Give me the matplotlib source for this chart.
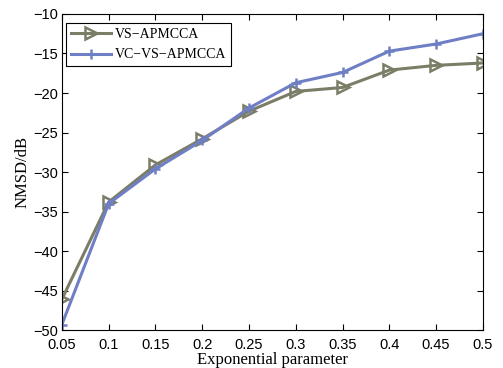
import matplotlib
matplotlib.use("Agg")
import matplotlib.pyplot as plt

x_vals = [0.05, 0.1, 0.15, 0.2, 0.25, 0.3, 0.35, 0.4, 0.45, 0.5]
vs_apmcca = [-46.1, -33.8, -29.1, -25.8, -22.3, -19.8, -19.3, -17.1, -16.5, -16.2]
vc_vs_apmcca = [-49.3, -34.0, -29.6, -26.0, -21.9, -18.7, -17.4, -14.7, -13.8, -12.5]
x_ticks = [0.05, 0.1, 0.15, 0.2, 0.25, 0.3, 0.35, 0.4, 0.45, 0.5]
x_ticklabels = ["0.05", "0.1", "0.15", "0.2", "0.25", "0.3", "0.35", "0.4", "0.45", "0.5"]
y_ticks = [-50, -45, -40, -35, -30, -25, -20, -15, -10]

fig = plt.figure(figsize=(5.03, 3.68), dpi=100)
ax = fig.add_axes([0.123, 0.103, 0.837, 0.859])

ax.plot(x_vals, vs_apmcca, color="#7b7d66", lw=2.2, marker=">", ms=9,
        mfc="none", mew=1.8, label="VS\u2212APMCCA")
ax.plot(x_vals, vc_vs_apmcca, color="#6f7fc6", lw=2.2, marker="+", ms=7,
        mew=1.8, label="VC\u2212VS\u2212APMCCA")

ax.set_xlim(0.05, 0.5)
ax.set_ylim(-50, -10)
ax.set_xticks(x_ticks)
ax.set_xticklabels(x_ticklabels)
ax.set_yticks(y_ticks)
ax.tick_params(direction="in", top=True, right=True, length=4,
               labelsize=10.5)
ax.tick_params(axis="x", pad=6)
ax.tick_params(axis="y", pad=3)
for lab in ax.get_xticklabels() + ax.get_yticklabels():
    lab.set_family("Liberation Sans")

ax.set_xlabel("Exponential parameter", family="Liberation Serif", fontsize=12, labelpad=0)
ax.set_ylabel("NMSD/dB", family="Liberation Serif", fontsize=12, labelpad=2)

leg = ax.legend(loc="upper left", bbox_to_anchor=(0.0095, 0.9715),
                prop={"family": "Liberation Serif", "size": 10},
                fancybox=False, edgecolor="black", framealpha=1,
                borderaxespad=0, handlelength=2.9, handletextpad=0.3,
                borderpad=0.35, labelspacing=0.55)
leg.get_frame().set_linewidth(0.8)

fig.savefig("out.png", dpi=100)
